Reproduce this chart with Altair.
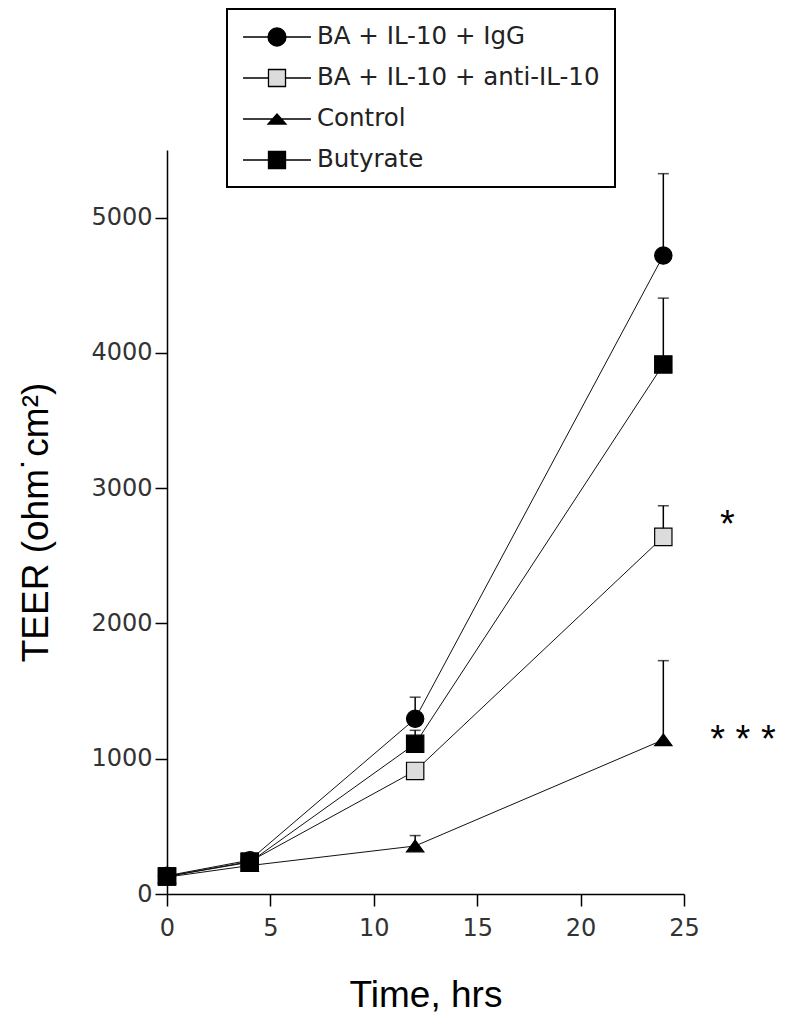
import altair as alt
import pandas as pd

series = ["BA + IL-10 + IgG", "BA + IL-10 + anti-IL-10", "Control", "Butyrate"]
times = [0, 4, 12, 24]
igg = [135, 250, 1295, 4720]
anti = [130, 240, 910, 2640]
control = [125, 210, 355, 1140]
butyrate = [130, 235, 1110, 3915]
igg_err = [20, 20, 160, 605]
anti_err = [20, 20, 20, 230]
control_err = [20, 20, 77, 585]
butyrate_err = [20, 20, 100, 490]

sig_labels = ["*", "* * *"]
sig_t = [27.1, 27.85]
sig_v = [2764, 1175]

values = [igg, anti, control, butyrate]
errors = [igg_err, anti_err, control_err, butyrate_err]

rows = []
for name, vals, errs in zip(series, values, errors):
    for t, v, e in zip(times, vals, errs):
        rows.append({"series": name, "t": t, "v": v, "upper": v + e})
df = pd.DataFrame(rows)
sig_df = pd.DataFrame({"t": sig_t, "v": sig_v, "label": sig_labels})

TRI = "M0,-0.68L1,0.68L-1,0.68Z"
point_shapes = ["circle", "square", TRI, "square"]
fills = ["black", "#dcdcdc", "black", "black"]
strokes = ["black", "black", "black", "black"]

# legend glyphs: marker with a line through it (unit = 12 px)
L = 2.83
r = 0.75
s = 0.71
leg_circle = f"M-{L},0H{L}M{r},0A{r},{r},0,1,1,-{r},0A{r},{r},0,1,1,{r},0Z"
leg_gsquare = f"M-{L},0H-{s}M{s},0H{L}M-{s},-{s}H{s}V{s}H-{s}Z"
leg_tri = f"M-{L},0H{L}M0,-0.42L0.75,0.42H-0.75Z"
leg_square = f"M-{L},0H{L}M-{s},-{s}H{s}V{s}H-{s}Z"
legend_shapes = [leg_circle, leg_gsquare, leg_tri, leg_square]

xscale = alt.Scale(domain=[0, 25], nice=False, zero=False)
yscale = alt.Scale(domain=[0, 5500], nice=False)

xaxis = alt.Axis(values=[0, 5, 10, 15, 20, 25], grid=False, tickSize=12, tickWidth=1.5,
                 domainWidth=1.5, domainColor="black", tickColor="black",
                 labelFont="DejaVu Sans", labelFontSize=24, labelColor="#333",
                 labelPadding=10, labelFlush=False,
                 titleFont="Liberation Sans", titleFontSize=37, titleFontWeight="normal",
                 titleColor="black", titlePadding=37)
yaxis = alt.Axis(values=[0, 1000, 2000, 3000, 4000, 5000], format="d", grid=False,
                 tickSize=12, tickWidth=1.5,
                 domainWidth=1.5, domainColor="black", tickColor="black",
                 labelFont="DejaVu Sans", labelFontSize=24, labelColor="#333",
                 labelPadding=3, labelFlush=False,
                 titleFont="Liberation Sans", titleFontSize=37, titleFontWeight="normal",
                 titleColor="black", titlePadding=35)

X = alt.X("t:Q", scale=xscale, axis=xaxis, title="Time, hrs")
Y = alt.Y("v:Q", scale=yscale, axis=yaxis, title="TEER (ohm˙cm²)")

base = alt.Chart(df)

rules = base.mark_rule(color="black", strokeWidth=1.5).encode(x=X, y=Y, y2="upper:Q")
caps = base.mark_tick(orient="horizontal", size=11, thickness=1.5, color="black").encode(
    x=X, y=alt.Y("upper:Q"))
lines = base.mark_line(color="#111", strokeWidth=1).encode(
    x=X, y=Y, detail="series:N", order="t:Q")
points = base.mark_point(filled=True, size=300, stroke="black", strokeWidth=1.2, opacity=1).encode(
    x=X, y=Y,
    shape=alt.Shape("series:N", scale=alt.Scale(domain=series, range=point_shapes), legend=None),
    fill=alt.Fill("series:N", scale=alt.Scale(domain=series, range=fills), legend=None),
)
sig = alt.Chart(sig_df).mark_text(font="Liberation Sans", fontSize=38, color="black",
                                  baseline="middle", align="center", dy=6).encode(
    x=alt.X("t:Q", scale=xscale), y=alt.Y("v:Q", scale=yscale), text="label:N")

leg = alt.Legend(title=None, orient="none", legendX=60, legendY=-141, direction="vertical",
                 symbolSize=576, symbolStrokeWidth=1.3, symbolOffset=22,
                 labelFont="DejaVu Sans", labelFontSize=24.5, labelColor="#222",
                 labelOffset=27, labelLimit=600, padding=15, rowPadding=16,
                 strokeColor="black", symbolOpacity=1)
legend_layer = base.transform_filter("datum.t < -100").mark_point(
    filled=True, strokeWidth=1.3).encode(
    shape=alt.Shape("series:N", scale=alt.Scale(domain=series, range=legend_shapes), legend=leg),
    fill=alt.Fill("series:N", scale=alt.Scale(domain=series, range=fills), legend=leg),
    stroke=alt.Stroke("series:N", scale=alt.Scale(domain=series, range=strokes), legend=leg),
)

chart = alt.layer(rules, caps, lines, points, sig, legend_layer).resolve_scale(
    shape="independent", fill="independent", stroke="independent"
).properties(
    width=517, height=744,
    autosize=alt.AutoSizeParams(type="none"),
    padding={"left": 159, "top": 142, "right": 94, "bottom": 119},
).configure_view(stroke=None).configure_legend(strokeWidth=2)

chart.save("out.html", embed_options={"renderer": "svg", "actions": False})
